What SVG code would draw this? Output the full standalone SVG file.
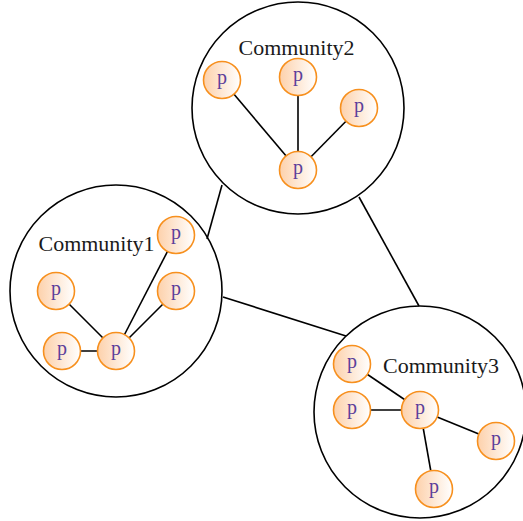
<svg xmlns="http://www.w3.org/2000/svg" width="523" height="521" viewBox="0 0 523 521">
<defs>
<linearGradient id="g" x1="0" y1="0" x2="1" y2="0">
<stop offset="0" stop-color="#fdd1ab"/>
<stop offset="1" stop-color="#ffffff"/>
</linearGradient>
<style>
.comm{fill:none;stroke:#000;stroke-width:1.6}
.edge{stroke:#000;stroke-width:1.6;fill:none}
.node circle{fill:url(#g);stroke:#f7901e;stroke-width:1.6}
.node text{font-family:"Liberation Serif","DejaVu Serif",serif;font-size:20px;fill:#5c3f9a;text-anchor:middle}
.lbl{font-family:"Liberation Serif","DejaVu Serif",serif;font-size:20px;fill:#1a1a1a;text-anchor:middle}
</style>
</defs>
<rect width="523" height="521" fill="#fff"/>
<g id="community1"><circle class="comm" cx="116" cy="291" r="106"/><text class="lbl" x="96.5" y="251" textLength="116" lengthAdjust="spacingAndGlyphs">Community1</text></g>
<g id="community2"><circle class="comm" cx="298" cy="108" r="106"/><text class="lbl" x="296.5" y="55" textLength="116" lengthAdjust="spacingAndGlyphs">Community2</text></g>
<g id="community3"><circle class="comm" cx="420" cy="412" r="106"/><text class="lbl" x="441" y="373" textLength="116" lengthAdjust="spacingAndGlyphs">Community3</text></g>
<g id="connectors">
<line class="edge" x1="207" y1="239" x2="222" y2="185"/>
<line class="edge" x1="359" y1="197" x2="419" y2="306"/>
<line class="edge" x1="223" y1="297" x2="346" y2="336"/>
<line class="edge" x1="222" y1="80" x2="298" y2="170"/>
<line class="edge" x1="298" y1="77" x2="298" y2="170"/>
<line class="edge" x1="359" y1="108" x2="298" y2="170"/>
<line class="edge" x1="56" y1="291" x2="116" y2="351"/>
<line class="edge" x1="62" y1="351" x2="116" y2="351"/>
<line class="edge" x1="176" y1="235" x2="116" y2="351"/>
<line class="edge" x1="176" y1="291" x2="116" y2="351"/>
<line class="edge" x1="352" y1="364" x2="420" y2="410"/>
<line class="edge" x1="352" y1="410" x2="420" y2="410"/>
<line class="edge" x1="496" y1="441" x2="420" y2="410"/>
<line class="edge" x1="434" y1="489" x2="420" y2="410"/>
</g>
<g id="n2a" class="node"><circle cx="222" cy="80" r="18.5"/><text x="222" y="84">p</text></g>
<g id="n2b" class="node"><circle cx="298" cy="77" r="18.5"/><text x="298" y="81">p</text></g>
<g id="n2c" class="node"><circle cx="359" cy="108" r="18.5"/><text x="359" y="112">p</text></g>
<g id="n2d" class="node"><circle cx="298" cy="170" r="18.5"/><text x="298" y="174">p</text></g>
<g id="n1a" class="node"><circle cx="176" cy="235" r="18.5"/><text x="176" y="239">p</text></g>
<g id="n1b" class="node"><circle cx="56" cy="291" r="18.5"/><text x="56" y="295">p</text></g>
<g id="n1c" class="node"><circle cx="176" cy="291" r="18.5"/><text x="176" y="295">p</text></g>
<g id="n1d" class="node"><circle cx="62" cy="351" r="18.5"/><text x="62" y="355">p</text></g>
<g id="n1e" class="node"><circle cx="116" cy="351" r="18.5"/><text x="116" y="355">p</text></g>
<g id="n3a" class="node"><circle cx="352" cy="364" r="18.5"/><text x="352" y="368">p</text></g>
<g id="n3b" class="node"><circle cx="352" cy="410" r="18.5"/><text x="352" y="414">p</text></g>
<g id="n3c" class="node"><circle cx="420" cy="410" r="18.5"/><text x="420" y="414">p</text></g>
<g id="n3d" class="node"><circle cx="496" cy="441" r="18.5"/><text x="496" y="445">p</text></g>
<g id="n3e" class="node"><circle cx="434" cy="489" r="18.5"/><text x="434" y="493">p</text></g>
</svg>
